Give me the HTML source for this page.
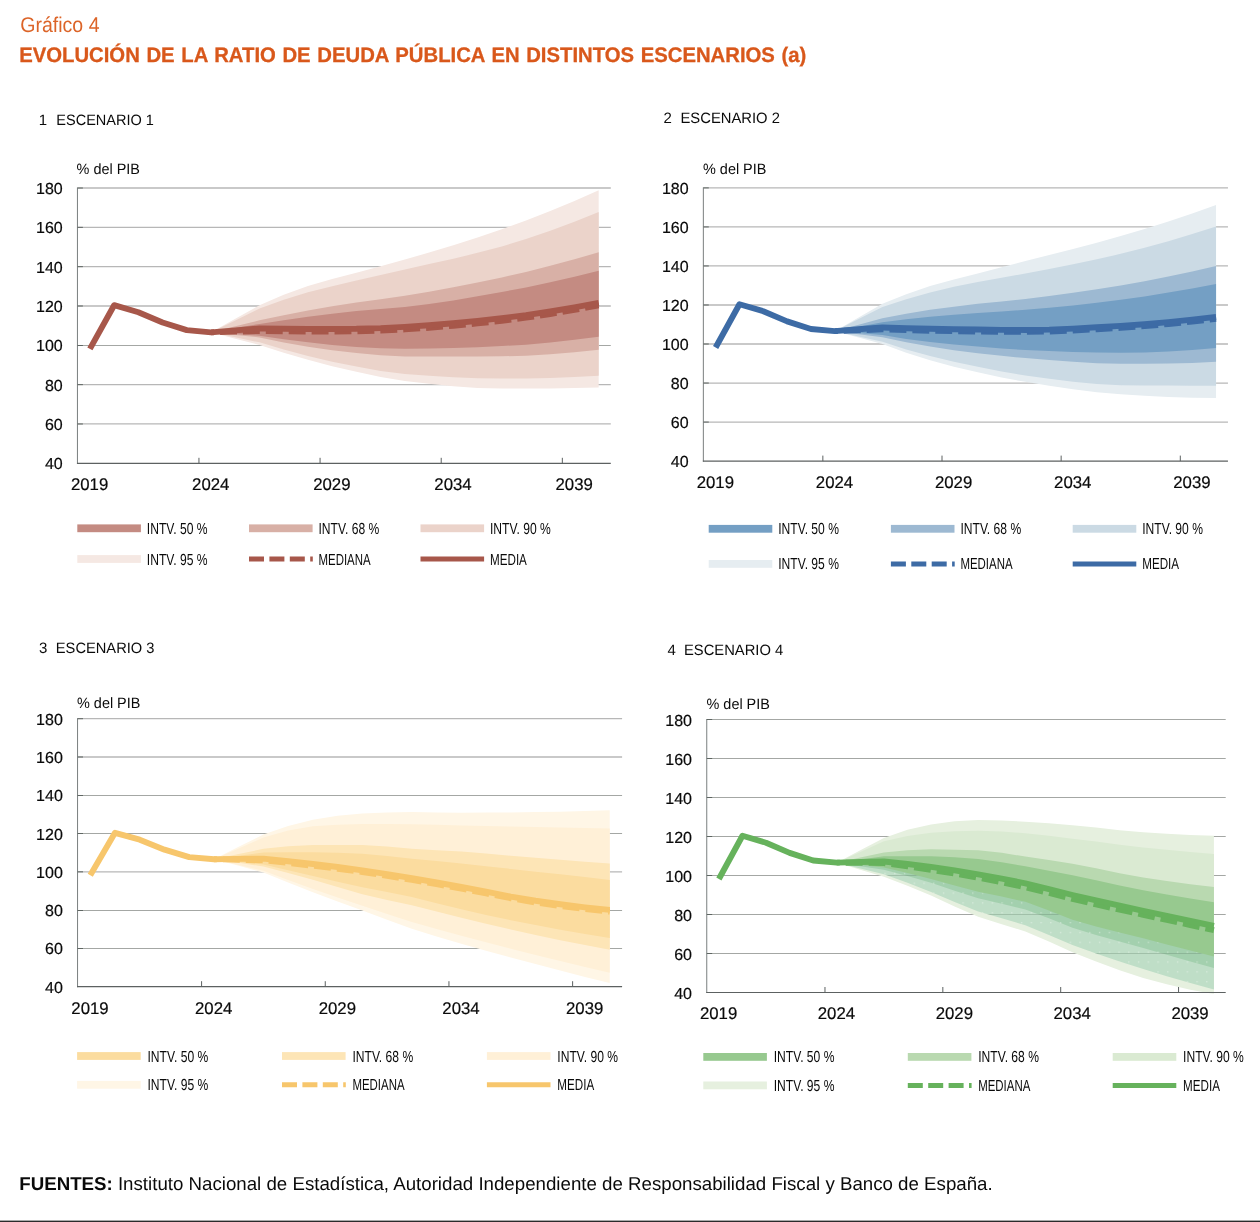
<!DOCTYPE html>
<html lang="es"><head><meta charset="utf-8"><title>Gráfico 4</title>
<style>html,body{margin:0;padding:0;background:#fff;}body{width:1260px;height:1222px;overflow:hidden;font-family:"Liberation Sans",sans-serif;}svg{display:block;will-change:transform;}svg text{font-family:"Liberation Sans",sans-serif;fill:#0a0a0a;text-rendering:geometricPrecision;}svg text.n{stroke:#0a0a0a;stroke-width:0.2px;}</style></head><body>
<svg width="1260" height="1222" viewBox="0 0 1260 1222">
<text x="20.3" y="31.7" font-size="21.3" style="fill:#dc6428" textLength="79.2" lengthAdjust="spacingAndGlyphs">Gráfico 4</text>
<text transform="translate(19.2,61.6) scale(0.966,1)" font-size="21" font-weight="bold" style="fill:#d9581b;word-spacing:1.05px;stroke:#d9581b;stroke-width:0.3px">EVOLUCIÓN DE LA RATIO DE DEUDA PÚBLICA EN DISTINTOS ESCENARIOS (a)</text>
<defs><pattern id="dots" x="3" y="2" width="9.75" height="9.85" patternUnits="userSpaceOnUse"><rect x="4" y="4" width="1.2" height="1.2" fill="#ffffff" fill-opacity="0.45"/></pattern></defs>
<g>
<line x1="77.8" x2="610.79" y1="423.97" y2="423.97" stroke="#b7b7b7" stroke-width="1.3"/>
<line x1="77.8" x2="610.79" y1="384.64" y2="384.64" stroke="#b7b7b7" stroke-width="1.3"/>
<line x1="77.8" x2="610.79" y1="345.5" y2="345.5" stroke="#9a9d9a" stroke-width="0.9"/>
<line x1="77.8" x2="610.79" y1="305.99" y2="305.99" stroke="#b7b7b7" stroke-width="1.3"/>
<line x1="77.8" x2="610.79" y1="266.66" y2="266.66" stroke="#b7b7b7" stroke-width="1.3"/>
<line x1="77.8" x2="610.79" y1="227.33" y2="227.33" stroke="#b7b7b7" stroke-width="1.3"/>
<line x1="77.8" x2="610.79" y1="188" y2="188" stroke="#b7b7b7" stroke-width="1.3"/>
<clipPath id="clip1"><rect x="77.8" y="186" width="532.99" height="278.5"/></clipPath>
<g clip-path="url(#clip1)">
<polygon fill="#f5e8e3" points="211.05,332.34 235.28,318.77 259.5,305.2 283.73,294.73 307.96,285.93 332.18,279.03 356.41,272.75 380.64,266.27 404.86,259.58 429.09,252.51 453.32,245.2 477.55,237.51 501.77,229.3 526,220.45 550.23,210.98 574.45,200.93 598.68,190.36 598.68,387.4 574.45,388.08 550.23,388.43 526,388.56 501.77,388.58 477.55,387.91 453.32,386.15 429.09,383.69 404.86,380.91 380.64,376.97 356.41,371.86 332.18,366.24 307.96,359.87 283.73,352.78 259.5,344.92 235.28,338.63 211.05,332.34"/>
<polygon fill="#ebd3ca" points="211.05,332.34 235.28,320.44 259.5,308.54 283.73,299.74 307.96,292.22 332.18,286.14 356.41,280.62 380.64,275.11 404.86,269.61 429.09,264.11 453.32,258.65 477.55,252.87 501.77,246.4 526,239 550.23,230.73 574.45,221.7 598.68,211.99 598.68,375.79 574.45,377.12 550.23,377.97 526,378.42 501.77,378.55 477.55,378.19 453.32,377.21 429.09,375.77 404.86,374.02 380.64,370.92 356.41,366.55 332.18,361.64 307.96,355.93 283.73,349.54 259.5,342.36 235.28,337.35 211.05,332.34"/>
<polygon fill="#d8b0a6" points="211.05,332.34 235.28,326.34 259.5,320.34 283.73,315.19 307.96,310.51 332.18,306.28 356.41,302.45 380.64,299.14 404.86,295.76 429.09,291.76 453.32,287.37 477.55,282.6 501.77,277.47 526,271.9 550.23,265.82 574.45,259.27 598.68,252.3 598.68,349.84 574.45,352.19 550.23,354.24 526,355.71 501.77,356.33 477.55,356.41 453.32,356.47 429.09,356.51 404.86,356.52 380.64,355.32 356.41,352.98 332.18,350.21 307.96,346.69 283.73,342.47 259.5,337.45 235.28,334.89 211.05,332.34"/>
<polygon fill="#c48b82" points="211.05,332.34 235.28,328.11 259.5,323.88 283.73,320.16 307.96,316.8 332.18,313.76 356.41,311.1 380.64,309.08 404.86,306.97 429.09,304.01 453.32,300.4 477.55,296.34 501.77,292.02 526,287.38 550.23,282.26 574.45,276.71 598.68,270.79 598.68,336.66 574.45,339.73 550.23,342.45 526,344.63 501.77,346.1 477.55,347.13 453.32,348.01 429.09,348.62 404.86,348.85 380.64,348.21 356.41,346.89 332.18,344.96 307.96,342.36 283.73,339.32 259.5,335.68 235.28,334.01 211.05,332.34"/>
</g>
<polyline fill="none" stroke="#a7574a" stroke-width="5.9" stroke-dasharray="16.9 6" stroke-dashoffset="-9" points="211.05,332.34 235.28,331.65 259.5,330.96 283.73,331.38 307.96,331.55 332.18,331.5 356.41,331.35 380.64,330.65 404.86,329.39 429.09,327.82 453.32,325.79 477.55,323.4 501.77,320.73 526,317.66 550.23,314.02 574.45,309.9 598.68,305.4"/>
<polyline fill="none" stroke="#a7574a" stroke-width="5.9" stroke-linejoin="round" points="89.91,348.85 114.14,305.2 138.37,312.28 162.59,322.5 186.82,330.17 211.05,332.34 235.28,330.37 259.5,328.4 283.73,328.82 307.96,328.99 332.18,328.94 356.41,328.8 380.64,328.09 404.86,326.83 429.09,325.27 453.32,323.24 477.55,320.84 501.77,318.18 526,315.1 550.23,311.46 574.45,307.34 598.68,302.84"/>
<line x1="77.45" x2="77.45" y1="187.5" y2="463.8" stroke="#7a7f7f" stroke-width="1"/>
<line x1="76.95" x2="610.79" y1="463.3" y2="463.3" stroke="#5c6161" stroke-width="1.2"/>
<line x1="198.94" x2="198.94" y1="457.8" y2="463.3" stroke="#5c6161" stroke-width="1"/>
<line x1="320.07" x2="320.07" y1="457.8" y2="463.3" stroke="#5c6161" stroke-width="1"/>
<line x1="441.21" x2="441.21" y1="457.8" y2="463.3" stroke="#5c6161" stroke-width="1"/>
<line x1="562.34" x2="562.34" y1="457.8" y2="463.3" stroke="#5c6161" stroke-width="1"/>
<line x1="77.45" x2="82.9" y1="423.97" y2="423.97" stroke="#5f6663" stroke-width="1"/>
<line x1="77.45" x2="82.9" y1="384.64" y2="384.64" stroke="#5f6663" stroke-width="1"/>
<line x1="77.45" x2="82.9" y1="345.5" y2="345.5" stroke="#5f6663" stroke-width="1"/>
<line x1="77.45" x2="82.9" y1="305.99" y2="305.99" stroke="#5f6663" stroke-width="1"/>
<line x1="77.45" x2="82.9" y1="266.66" y2="266.66" stroke="#5f6663" stroke-width="1"/>
<line x1="77.45" x2="82.9" y1="227.33" y2="227.33" stroke="#5f6663" stroke-width="1"/>
<line x1="77.45" x2="82.9" y1="188" y2="188" stroke="#5f6663" stroke-width="1"/>
<text class="n" x="62.7" y="469.3" text-anchor="end" font-size="16">40</text>
<text class="n" x="62.7" y="429.97" text-anchor="end" font-size="16">60</text>
<text class="n" x="62.7" y="390.64" text-anchor="end" font-size="16">80</text>
<text class="n" x="62.7" y="351.31" text-anchor="end" font-size="16">100</text>
<text class="n" x="62.7" y="311.99" text-anchor="end" font-size="16">120</text>
<text class="n" x="62.7" y="272.66" text-anchor="end" font-size="16">140</text>
<text class="n" x="62.7" y="233.33" text-anchor="end" font-size="16">160</text>
<text class="n" x="62.7" y="194" text-anchor="end" font-size="16">180</text>
<text class="n" x="89.61" y="490.4" text-anchor="middle" font-size="16.8">2019</text>
<text class="n" x="210.75" y="490.4" text-anchor="middle" font-size="16.8">2024</text>
<text class="n" x="331.88" y="490.4" text-anchor="middle" font-size="16.8">2029</text>
<text class="n" x="453.02" y="490.4" text-anchor="middle" font-size="16.8">2034</text>
<text class="n" x="574.15" y="490.4" text-anchor="middle" font-size="16.8">2039</text>
<text x="76.6" y="173.5" font-size="15" textLength="63.4" lengthAdjust="spacingAndGlyphs">% del PIB</text>
<text x="38.7" y="125" font-size="15">1</text>
<text x="56.3" y="125" font-size="15" textLength="97.6" lengthAdjust="spacingAndGlyphs">ESCENARIO 1</text>
<rect x="77.3" y="524.4" width="63.6" height="7.8" fill="#c48b82"/>
<text transform="translate(146.8,533.8) scale(0.756,1)" font-size="16">INTV. 50 %</text>
<rect x="249" y="524.4" width="63.6" height="7.8" fill="#d8b0a6"/>
<text transform="translate(318.5,533.8) scale(0.756,1)" font-size="16">INTV. 68 %</text>
<rect x="420.5" y="524.4" width="63.6" height="7.8" fill="#ebd3ca"/>
<text transform="translate(490,533.8) scale(0.756,1)" font-size="16">INTV. 90 %</text>
<rect x="77.3" y="555.1" width="63.6" height="7.8" fill="#f5e8e3"/>
<text transform="translate(146.8,564.5) scale(0.756,1)" font-size="16">INTV. 95 %</text>
<line x1="249" x2="312.8" y1="559" y2="559" stroke="#a7574a" stroke-width="5" stroke-dasharray="15 5.4"/>
<text transform="translate(318.5,564.5) scale(0.715,1)" font-size="16">MEDIANA</text>
<line x1="420.5" x2="484.1" y1="559" y2="559" stroke="#a7574a" stroke-width="5"/>
<text transform="translate(490,564.5) scale(0.728,1)" font-size="16">MEDIA</text>
</g>
<g>
<line x1="703.7" x2="1227.96" y1="422.07" y2="422.07" stroke="#b7b7b7" stroke-width="1.3"/>
<line x1="703.7" x2="1227.96" y1="383.04" y2="383.04" stroke="#b7b7b7" stroke-width="1.3"/>
<line x1="703.7" x2="1227.96" y1="344.01" y2="344.01" stroke="#b7b7b7" stroke-width="1.3"/>
<line x1="703.7" x2="1227.96" y1="304.99" y2="304.99" stroke="#b7b7b7" stroke-width="1.3"/>
<line x1="703.7" x2="1227.96" y1="265.96" y2="265.96" stroke="#b7b7b7" stroke-width="1.3"/>
<line x1="703.7" x2="1227.96" y1="226.93" y2="226.93" stroke="#b7b7b7" stroke-width="1.3"/>
<line x1="703.7" x2="1227.96" y1="187.9" y2="187.9" stroke="#b7b7b7" stroke-width="1.3"/>
<clipPath id="clip2"><rect x="703.7" y="185.9" width="524.26" height="276.4"/></clipPath>
<g clip-path="url(#clip2)">
<polygon fill="#e6edf1" points="834.77,331.13 858.6,317.47 882.43,303.81 906.25,294.22 930.09,286.06 953.91,279.54 977.75,273.57 1001.58,267.32 1025.4,261.08 1049.24,254.96 1073.07,248.93 1096.89,242.72 1120.72,236.1 1144.56,228.96 1168.38,221.38 1192.22,213.41 1216.05,205.07 1216.05,398.07 1192.22,397.76 1168.38,396.93 1144.56,395.74 1120.72,394.36 1096.89,392.33 1073.07,389.34 1049.24,385.73 1025.4,381.87 1001.58,377.46 977.75,372.31 953.91,366.66 930.09,360.21 906.25,352.66 882.43,344.01 858.6,337.57 834.77,331.13"/>
<polygon fill="#cbdae4" points="834.77,331.13 858.6,319.04 882.43,306.94 906.25,299.19 930.09,292.5 953.91,286.87 977.75,281.96 1001.58,277.72 1025.4,273.57 1049.24,269.03 1073.07,264.33 1096.89,259.32 1120.72,253.86 1144.56,247.83 1168.38,241.23 1192.22,234.11 1216.05,226.54 1216.05,385.77 1192.22,385.74 1168.38,385.62 1144.56,385.44 1120.72,385.19 1096.89,384.11 1073.07,381.78 1049.24,378.71 1025.4,375.43 1001.58,371.53 977.75,366.85 953.91,361.82 930.09,356.11 906.25,349.46 882.43,341.87 858.6,336.5 834.77,331.13"/>
<polygon fill="#9db9d2" points="834.77,331.13 858.6,324.7 882.43,318.26 906.25,313.74 930.09,309.86 953.91,306.64 977.75,303.81 1001.58,301.4 1025.4,298.94 1049.24,296.02 1073.07,292.81 1096.89,289.29 1120.72,285.47 1144.56,281.24 1168.38,276.54 1192.22,271.43 1216.05,265.96 1216.05,361.77 1192.22,362.89 1168.38,363.47 1144.56,363.69 1120.72,363.72 1096.89,363.19 1073.07,361.82 1049.24,359.99 1025.4,358.06 1001.58,355.87 977.75,353.19 953.91,350.14 930.09,346.55 906.25,342.24 882.43,337.18 858.6,334.16 834.77,331.13"/>
<polygon fill="#749fc4" points="834.77,331.13 858.6,326.74 882.43,322.35 906.25,319.25 930.09,316.69 953.91,314.7 977.75,312.99 1001.58,311.47 1025.4,309.86 1049.24,307.8 1073.07,305.39 1096.89,302.69 1120.72,299.72 1144.56,296.38 1168.38,292.6 1192.22,288.42 1216.05,283.91 1216.05,347.92 1192.22,349.9 1168.38,351.44 1144.56,352.44 1120.72,352.8 1096.89,352.56 1073.07,351.95 1049.24,351.07 1025.4,350.06 1001.58,348.54 977.75,346.55 953.91,344.5 930.09,342.06 906.25,338.9 882.43,335.04 858.6,333.09 834.77,331.13"/>
</g>
<polyline fill="none" stroke="#3d6ba5" stroke-width="5.9" stroke-dasharray="16.9 6" stroke-dashoffset="-9" points="834.77,331.13 858.6,330.26 882.43,329.38 906.25,330.14 930.09,330.74 953.91,331.19 977.75,331.53 1001.58,331.79 1025.4,331.92 1049.24,331.54 1073.07,330.57 1096.89,329.25 1120.72,327.82 1144.56,326.16 1168.38,324.05 1192.22,321.59 1216.05,318.84"/>
<polyline fill="none" stroke="#3d6ba5" stroke-width="5.9" stroke-linejoin="round" points="715.62,347.53 739.45,304.21 763.28,311.23 787.11,321.38 810.94,328.99 834.77,331.13 858.6,329.28 882.43,327.43 906.25,328.19 930.09,328.79 953.91,329.24 977.75,329.57 1001.58,329.83 1025.4,329.96 1049.24,329.59 1073.07,328.62 1096.89,327.3 1120.72,325.87 1144.56,324.21 1168.38,322.1 1192.22,319.63 1216.05,316.89"/>
<line x1="703.35" x2="703.35" y1="187.4" y2="461.6" stroke="#7a7f7f" stroke-width="1"/>
<line x1="702.85" x2="1227.96" y1="461.1" y2="461.1" stroke="#5c6161" stroke-width="1.2"/>
<line x1="822.85" x2="822.85" y1="455.6" y2="461.1" stroke="#5c6161" stroke-width="1"/>
<line x1="942" x2="942" y1="455.6" y2="461.1" stroke="#5c6161" stroke-width="1"/>
<line x1="1061.15" x2="1061.15" y1="455.6" y2="461.1" stroke="#5c6161" stroke-width="1"/>
<line x1="1180.3" x2="1180.3" y1="455.6" y2="461.1" stroke="#5c6161" stroke-width="1"/>
<line x1="703.35" x2="708.8" y1="422.07" y2="422.07" stroke="#5f6663" stroke-width="1"/>
<line x1="703.35" x2="708.8" y1="383.04" y2="383.04" stroke="#5f6663" stroke-width="1"/>
<line x1="703.35" x2="708.8" y1="344.01" y2="344.01" stroke="#5f6663" stroke-width="1"/>
<line x1="703.35" x2="708.8" y1="304.99" y2="304.99" stroke="#5f6663" stroke-width="1"/>
<line x1="703.35" x2="708.8" y1="265.96" y2="265.96" stroke="#5f6663" stroke-width="1"/>
<line x1="703.35" x2="708.8" y1="226.93" y2="226.93" stroke="#5f6663" stroke-width="1"/>
<line x1="703.35" x2="708.8" y1="187.9" y2="187.9" stroke="#5f6663" stroke-width="1"/>
<text class="n" x="688.6" y="467.1" text-anchor="end" font-size="16">40</text>
<text class="n" x="688.6" y="428.07" text-anchor="end" font-size="16">60</text>
<text class="n" x="688.6" y="389.04" text-anchor="end" font-size="16">80</text>
<text class="n" x="688.6" y="350.01" text-anchor="end" font-size="16">100</text>
<text class="n" x="688.6" y="310.99" text-anchor="end" font-size="16">120</text>
<text class="n" x="688.6" y="271.96" text-anchor="end" font-size="16">140</text>
<text class="n" x="688.6" y="232.93" text-anchor="end" font-size="16">160</text>
<text class="n" x="688.6" y="193.9" text-anchor="end" font-size="16">180</text>
<text class="n" x="715.32" y="488.2" text-anchor="middle" font-size="16.8">2019</text>
<text class="n" x="834.47" y="488.2" text-anchor="middle" font-size="16.8">2024</text>
<text class="n" x="953.62" y="488.2" text-anchor="middle" font-size="16.8">2029</text>
<text class="n" x="1072.77" y="488.2" text-anchor="middle" font-size="16.8">2034</text>
<text class="n" x="1191.92" y="488.2" text-anchor="middle" font-size="16.8">2039</text>
<text x="703" y="174.3" font-size="15" textLength="63.4" lengthAdjust="spacingAndGlyphs">% del PIB</text>
<text x="663.4" y="122.9" font-size="15">2</text>
<text x="680.5" y="122.9" font-size="15" textLength="99.4" lengthAdjust="spacingAndGlyphs">ESCENARIO 2</text>
<rect x="708.7" y="524.9" width="63.6" height="7.8" fill="#749fc4"/>
<text transform="translate(778.2,534.3) scale(0.756,1)" font-size="16">INTV. 50 %</text>
<rect x="890.9" y="524.9" width="63.6" height="7.8" fill="#9db9d2"/>
<text transform="translate(960.4,534.3) scale(0.756,1)" font-size="16">INTV. 68 %</text>
<rect x="1072.7" y="524.9" width="63.6" height="7.8" fill="#cbdae4"/>
<text transform="translate(1142.2,534.3) scale(0.756,1)" font-size="16">INTV. 90 %</text>
<rect x="708.7" y="560" width="63.6" height="7.8" fill="#e6edf1"/>
<text transform="translate(778.2,569.4) scale(0.756,1)" font-size="16">INTV. 95 %</text>
<line x1="890.9" x2="954.7" y1="563.9" y2="563.9" stroke="#3d6ba5" stroke-width="5" stroke-dasharray="15 5.4"/>
<text transform="translate(960.4,569.4) scale(0.715,1)" font-size="16">MEDIANA</text>
<line x1="1072.7" x2="1136.3" y1="563.9" y2="563.9" stroke="#3d6ba5" stroke-width="5"/>
<text transform="translate(1142.2,569.4) scale(0.728,1)" font-size="16">MEDIA</text>
</g>
<g>
<line x1="77.9" x2="622.09" y1="948.5" y2="948.5" stroke="#9a9d9a" stroke-width="0.9"/>
<line x1="77.9" x2="622.09" y1="910.5" y2="910.5" stroke="#9a9d9a" stroke-width="0.9"/>
<line x1="77.9" x2="622.09" y1="871.84" y2="871.84" stroke="#b7b7b7" stroke-width="1.3"/>
<line x1="77.9" x2="622.09" y1="833.5" y2="833.5" stroke="#9a9d9a" stroke-width="0.9"/>
<line x1="77.9" x2="622.09" y1="795.5" y2="795.5" stroke="#9a9d9a" stroke-width="0.9"/>
<line x1="77.9" x2="622.09" y1="756.99" y2="756.99" stroke="#b7b7b7" stroke-width="1.3"/>
<line x1="77.9" x2="622.09" y1="718.7" y2="718.7" stroke="#b7b7b7" stroke-width="1.3"/>
<clipPath id="clip3"><rect x="77.9" y="716.7" width="544.19" height="271.2"/></clipPath>
<g clip-path="url(#clip3)">
<polygon fill="#fff6e6" points="213.95,859.21 238.68,846.86 263.42,834.51 288.16,825.88 312.89,819.77 337.63,815.79 362.36,813.46 387.1,812.51 411.84,812.12 436.57,812.4 461.31,812.69 486.04,812.61 510.78,812.4 535.52,812.12 560.25,811.68 584.99,811.02 609.72,810.2 609.72,983.06 584.99,976.91 560.25,970.59 535.52,964.11 510.78,957.47 486.04,950.66 461.31,943.63 436.57,936.42 411.84,928.7 387.1,919.84 362.36,910.51 337.63,901.42 312.89,892.13 288.16,882.45 263.42,872.42 238.68,865.81 213.95,859.21"/>
<polygon fill="#fff0d7" points="213.95,859.21 238.68,848.39 263.42,837.58 288.16,830.43 312.89,826.28 337.63,824.66 362.36,823.99 387.1,824.04 411.84,824.18 436.57,824.74 461.31,825.52 486.04,826.07 510.78,826.57 535.52,827.05 560.25,827.52 584.99,827.96 609.72,828.39 609.72,972.73 584.99,966.94 560.25,961 535.52,954.92 510.78,948.7 486.04,942.33 461.31,935.78 436.57,929.09 411.84,922 387.1,914.07 362.36,905.73 337.63,897.42 312.89,888.88 288.16,879.96 263.42,870.69 238.68,864.95 213.95,859.21"/>
<polygon fill="#fde5b6" points="213.95,859.21 238.68,854.04 263.42,848.87 288.16,846.24 312.89,845.04 337.63,845.04 362.36,845.04 387.1,846.56 411.84,848.87 436.57,850.2 461.31,851.55 486.04,853.46 510.78,855.7 535.52,857.87 560.25,859.84 584.99,861.76 609.72,863.61 609.72,949.75 584.99,945.11 560.25,940.19 535.52,935.01 510.78,929.52 486.04,923.74 461.31,917.79 436.57,911.53 411.84,905.34 387.1,899.9 362.36,894.24 337.63,887.12 312.89,879.69 288.16,872.92 263.42,866.48 238.68,862.85 213.95,859.21"/>
<polygon fill="#fbdc9f" points="213.95,859.21 238.68,855.86 263.42,852.51 288.16,852.34 312.89,852.32 337.63,852.79 362.36,853.85 387.1,855.92 411.84,858.63 436.57,861.09 461.31,863.61 486.04,866.24 510.78,868.93 535.52,871.65 560.25,874.37 584.99,877.12 609.72,879.88 609.72,937.89 584.99,933.92 560.25,929.63 535.52,925.06 510.78,920.16 486.04,914.91 461.31,909.36 436.57,903.19 411.84,897.11 387.1,892.07 362.36,887.16 337.63,881.7 312.89,876.05 288.16,870.36 263.42,864.57 238.68,861.89 213.95,859.21"/>
</g>
<polyline fill="none" stroke="#f7c66c" stroke-width="5.9" stroke-dasharray="16.9 6" stroke-dashoffset="-9" points="213.95,859.21 238.68,859.78 263.42,860.36 288.16,862.92 312.89,865.72 337.63,868.73 362.36,872.03 387.1,875.8 411.84,879.88 436.57,884.2 461.31,888.69 486.04,893.44 510.78,898.26 535.52,902.47 560.25,905.98 584.99,909.07 609.72,911.66"/>
<polyline fill="none" stroke="#f7c66c" stroke-width="5.9" stroke-linejoin="round" points="90.27,875.29 115,832.79 139.74,839.68 164.48,849.64 189.21,857.1 213.95,859.21 238.68,858.92 263.42,858.63 288.16,861.2 312.89,863.99 337.63,867 362.36,870.31 387.1,874.07 411.84,878.16 436.57,882.48 461.31,886.97 486.04,891.72 510.78,896.54 535.52,900.75 560.25,904.25 584.99,907.35 609.72,909.94"/>
<line x1="77.55" x2="77.55" y1="718.2" y2="987.2" stroke="#7a7f7f" stroke-width="1"/>
<line x1="77.05" x2="622.09" y1="986.7" y2="986.7" stroke="#5c6161" stroke-width="1.2"/>
<line x1="201.58" x2="201.58" y1="981.2" y2="986.7" stroke="#5c6161" stroke-width="1"/>
<line x1="325.26" x2="325.26" y1="981.2" y2="986.7" stroke="#5c6161" stroke-width="1"/>
<line x1="448.94" x2="448.94" y1="981.2" y2="986.7" stroke="#5c6161" stroke-width="1"/>
<line x1="572.62" x2="572.62" y1="981.2" y2="986.7" stroke="#5c6161" stroke-width="1"/>
<line x1="77.55" x2="83" y1="948.5" y2="948.5" stroke="#5f6663" stroke-width="1"/>
<line x1="77.55" x2="83" y1="910.5" y2="910.5" stroke="#5f6663" stroke-width="1"/>
<line x1="77.55" x2="83" y1="871.84" y2="871.84" stroke="#5f6663" stroke-width="1"/>
<line x1="77.55" x2="83" y1="833.5" y2="833.5" stroke="#5f6663" stroke-width="1"/>
<line x1="77.55" x2="83" y1="795.5" y2="795.5" stroke="#5f6663" stroke-width="1"/>
<line x1="77.55" x2="83" y1="756.99" y2="756.99" stroke="#5f6663" stroke-width="1"/>
<line x1="77.55" x2="83" y1="718.7" y2="718.7" stroke="#5f6663" stroke-width="1"/>
<text class="n" x="62.8" y="992.7" text-anchor="end" font-size="16">40</text>
<text class="n" x="62.8" y="954.41" text-anchor="end" font-size="16">60</text>
<text class="n" x="62.8" y="916.13" text-anchor="end" font-size="16">80</text>
<text class="n" x="62.8" y="877.84" text-anchor="end" font-size="16">100</text>
<text class="n" x="62.8" y="839.56" text-anchor="end" font-size="16">120</text>
<text class="n" x="62.8" y="801.27" text-anchor="end" font-size="16">140</text>
<text class="n" x="62.8" y="762.99" text-anchor="end" font-size="16">160</text>
<text class="n" x="62.8" y="724.7" text-anchor="end" font-size="16">180</text>
<text class="n" x="89.97" y="1013.8" text-anchor="middle" font-size="16.8">2019</text>
<text class="n" x="213.65" y="1013.8" text-anchor="middle" font-size="16.8">2024</text>
<text class="n" x="337.33" y="1013.8" text-anchor="middle" font-size="16.8">2029</text>
<text class="n" x="461.01" y="1013.8" text-anchor="middle" font-size="16.8">2034</text>
<text class="n" x="584.69" y="1013.8" text-anchor="middle" font-size="16.8">2039</text>
<text x="77" y="707.9" font-size="15" textLength="63.4" lengthAdjust="spacingAndGlyphs">% del PIB</text>
<text x="39.1" y="652.9" font-size="15">3</text>
<text x="55.8" y="652.9" font-size="15" textLength="98.7" lengthAdjust="spacingAndGlyphs">ESCENARIO 3</text>
<rect x="77.1" y="1052.1" width="63.6" height="7.8" fill="#fbdc9f"/>
<text transform="translate(147.5,1061.5) scale(0.756,1)" font-size="16">INTV. 50 %</text>
<rect x="282" y="1052.1" width="63.6" height="7.8" fill="#fde5b6"/>
<text transform="translate(352.4,1061.5) scale(0.756,1)" font-size="16">INTV. 68 %</text>
<rect x="486.9" y="1052.1" width="63.6" height="7.8" fill="#fff0d7"/>
<text transform="translate(557.3,1061.5) scale(0.756,1)" font-size="16">INTV. 90 %</text>
<rect x="77.1" y="1080.9" width="63.6" height="7.8" fill="#fff6e6"/>
<text transform="translate(147.5,1090.3) scale(0.756,1)" font-size="16">INTV. 95 %</text>
<line x1="282" x2="345.8" y1="1084.8" y2="1084.8" stroke="#f7c66c" stroke-width="5" stroke-dasharray="15 5.4"/>
<text transform="translate(352.4,1090.3) scale(0.715,1)" font-size="16">MEDIANA</text>
<line x1="486.9" x2="550.5" y1="1084.8" y2="1084.8" stroke="#f7c66c" stroke-width="5"/>
<text transform="translate(557.3,1090.3) scale(0.728,1)" font-size="16">MEDIA</text>
</g>
<g>
<line x1="707.1" x2="1225.71" y1="953.5" y2="953.5" stroke="#9a9d9a" stroke-width="0.9"/>
<line x1="707.1" x2="1225.71" y1="914.5" y2="914.5" stroke="#9a9d9a" stroke-width="0.9"/>
<line x1="707.1" x2="1225.71" y1="875.5" y2="875.5" stroke="#9a9d9a" stroke-width="0.9"/>
<line x1="707.1" x2="1225.71" y1="836.5" y2="836.5" stroke="#9a9d9a" stroke-width="0.9"/>
<line x1="707.1" x2="1225.71" y1="797.5" y2="797.5" stroke="#9a9d9a" stroke-width="0.9"/>
<line x1="707.1" x2="1225.71" y1="758.5" y2="758.5" stroke="#9a9d9a" stroke-width="0.9"/>
<line x1="707.1" x2="1225.71" y1="719.5" y2="719.5" stroke="#9a9d9a" stroke-width="0.9"/>
<clipPath id="clip4"><rect x="707.1" y="717.5" width="518.61" height="276.2"/></clipPath>
<g clip-path="url(#clip4)">
<polygon fill="#e6f0df" points="836.75,862.63 860.32,850.35 883.9,838.06 907.47,829.8 931.04,824.41 954.62,821.32 978.19,819.92 1001.76,820.51 1025.34,821.68 1048.91,823.23 1072.48,825.19 1096.05,827.55 1119.63,830.14 1143.2,832.21 1166.77,833.68 1190.35,834.9 1213.92,835.72 1213.92,926 1190.35,921 1166.77,915.93 1143.2,910.79 1119.63,905.64 1096.05,900.42 1072.48,895 1048.91,889.03 1025.34,883.3 1001.76,878.56 978.19,874.33 954.62,870.4 931.04,866.92 907.47,863.96 883.9,861.46 860.32,862.04 836.75,862.63"/>
<polygon fill="#daead2" points="836.75,862.63 860.32,851.9 883.9,841.18 907.47,835.98 931.04,832.79 954.62,831.3 978.19,830.65 1001.76,831.48 1025.34,833.18 1048.91,835.64 1072.48,838.64 1096.05,841.61 1119.63,844.65 1143.2,847.42 1166.77,849.85 1190.35,852.07 1213.92,854.05 1213.92,926 1190.35,921 1166.77,915.93 1143.2,910.79 1119.63,905.64 1096.05,900.42 1072.48,895 1048.91,889.03 1025.34,883.3 1001.76,878.56 978.19,874.33 954.62,870.4 931.04,866.92 907.47,863.96 883.9,861.46 860.32,862.04 836.75,862.63"/>
<polygon fill="#b9d9b0" points="836.75,862.63 860.32,857.56 883.9,852.49 907.47,850.28 931.04,849.37 954.62,849.65 978.19,850.35 1001.76,852.84 1025.34,856.59 1048.91,860.03 1072.48,863.8 1096.05,868.28 1119.63,873.13 1143.2,877.45 1166.77,881.04 1190.35,884.25 1213.92,887 1213.92,926 1190.35,921 1166.77,915.93 1143.2,910.79 1119.63,905.64 1096.05,900.42 1072.48,895 1048.91,889.03 1025.34,883.3 1001.76,878.56 978.19,874.33 954.62,870.4 931.04,866.92 907.47,863.96 883.9,861.46 860.32,862.04 836.75,862.63"/>
<polygon fill="#97c98f" points="836.75,862.63 860.32,859.41 883.9,856.19 907.47,856.19 931.04,856.19 954.62,857.14 978.19,859.12 1001.76,862.25 1025.34,866.34 1048.91,870.64 1072.48,875.31 1096.05,880.31 1119.63,885.51 1143.2,890.32 1166.77,894.6 1190.35,898.58 1213.92,902.22 1213.92,926 1190.35,921 1166.77,915.93 1143.2,910.79 1119.63,905.64 1096.05,900.42 1072.48,895 1048.91,889.03 1025.34,883.3 1001.76,878.56 978.19,874.33 954.62,870.4 931.04,866.92 907.47,863.96 883.9,861.46 860.32,862.04 836.75,862.63"/>
<polygon fill="#e6f0df" points="836.75,862.63 860.32,862.04 883.9,861.46 907.47,863.96 931.04,866.92 954.62,870.4 978.19,874.33 1001.76,878.56 1025.34,883.3 1048.91,889.03 1072.48,895 1096.05,900.42 1119.63,905.64 1143.2,910.79 1166.77,915.93 1190.35,921 1213.92,926 1213.92,994.06 1190.35,989.65 1166.77,984.17 1143.2,977.88 1119.63,970.35 1096.05,961.53 1072.48,952.13 1048.91,941.58 1025.34,931.47 1001.76,924.18 978.19,916.84 954.62,906.55 931.04,895.59 907.47,885.84 883.9,876.67 860.32,869.65 836.75,862.63"/>
<polygon fill="#bfdec7" points="836.75,862.63 860.32,862.04 883.9,861.46 907.47,863.96 931.04,866.92 954.62,870.4 978.19,874.33 1001.76,878.56 1025.34,883.3 1048.91,889.03 1072.48,895 1096.05,900.42 1119.63,905.64 1143.2,910.79 1166.77,915.93 1190.35,921 1213.92,926 1213.92,989.57 1190.35,983.02 1166.77,976.13 1143.2,968.9 1119.63,961.44 1096.05,953.6 1072.48,945.12 1048.91,934.99 1025.34,925.23 1001.76,918.29 978.19,911.38 954.62,901.92 931.04,891.88 907.47,882.87 883.9,874.33 860.32,868.48 836.75,862.63"/>
<polygon fill="#a3d0ae" points="836.75,862.63 860.32,862.04 883.9,861.46 907.47,863.96 931.04,866.92 954.62,870.4 978.19,874.33 1001.76,878.56 1025.34,883.3 1048.91,889.03 1072.48,895 1096.05,900.42 1119.63,905.64 1143.2,910.79 1166.77,915.93 1190.35,921 1213.92,926 1213.92,968.12 1190.35,961.45 1166.77,954.76 1143.2,948.04 1119.63,941.54 1096.05,935.02 1072.48,927.76 1048.91,918.36 1025.34,909.43 1001.76,903.77 978.19,898.32 954.62,890.66 931.04,882.72 907.47,875.96 883.9,869.85 860.32,866.24 836.75,862.63"/>
<clipPath id="ov4"><polygon points="836.75,862.63 860.32,865.07 883.9,867.5 907.47,873.11 931.04,879.01 954.62,885.45 978.19,891.68 1001.76,896.54 1025.34,901.83 1048.91,910.56 1072.48,919.76 1096.05,926.49 1119.63,932.4 1143.2,938.29 1166.77,944.42 1190.35,950.53 1213.92,956.62 1213.92,989.57 1190.35,983.02 1166.77,976.13 1143.2,968.9 1119.63,961.44 1096.05,953.6 1072.48,945.12 1048.91,934.99 1025.34,925.23 1001.76,918.29 978.19,911.38 954.62,901.92 931.04,891.88 907.47,882.87 883.9,874.33 860.32,868.48 836.75,862.63"/></clipPath>
<g clip-path="url(#ov4)">
<rect x="707.1" y="719.5" width="518.61" height="273" fill="url(#dots)"/>
<line x1="707.1" x2="1225.71" y1="953.5" y2="953.5" stroke="#5d7d68" stroke-opacity="0.35" stroke-width="0.9"/>
<line x1="707.1" x2="1225.71" y1="914.5" y2="914.5" stroke="#5d7d68" stroke-opacity="0.35" stroke-width="0.9"/>
<line x1="707.1" x2="1225.71" y1="875.5" y2="875.5" stroke="#5d7d68" stroke-opacity="0.35" stroke-width="0.9"/>
<line x1="707.1" x2="1225.71" y1="836.5" y2="836.5" stroke="#5d7d68" stroke-opacity="0.35" stroke-width="0.9"/>
</g>
<polygon fill="#97c98f" points="836.75,862.63 860.32,862.04 883.9,861.46 907.47,863.96 931.04,866.92 954.62,870.4 978.19,874.33 1001.76,878.56 1025.34,883.3 1048.91,889.03 1072.48,895 1096.05,900.42 1119.63,905.64 1143.2,910.79 1166.77,915.93 1190.35,921 1213.92,926 1213.92,956.62 1190.35,950.53 1166.77,944.42 1143.2,938.29 1119.63,932.4 1096.05,926.49 1072.48,919.76 1048.91,910.56 1025.34,901.83 1001.76,896.54 978.19,891.68 954.62,885.45 931.04,879.01 907.47,873.11 883.9,867.5 860.32,865.07 836.75,862.63"/>
</g>
<polyline fill="none" stroke="#66b25c" stroke-width="5.9" stroke-dasharray="16.9 6" stroke-dashoffset="-9" points="836.75,862.63 860.32,862.83 883.9,863.02 907.47,866.21 931.04,869.85 954.62,873.57 978.19,877.74 1001.76,882.22 1025.34,887.2 1048.91,892.95 1072.48,898.95 1096.05,904.39 1119.63,909.64 1143.2,914.82 1166.77,919.98 1190.35,925.07 1213.92,930.1"/>
<polyline fill="none" stroke="#66b25c" stroke-width="5.9" stroke-linejoin="round" points="718.89,879.01 742.46,835.72 766.03,842.74 789.61,852.88 813.18,860.49 836.75,862.63 860.32,862.04 883.9,861.46 907.47,863.96 931.04,866.92 954.62,870.4 978.19,874.33 1001.76,878.56 1025.34,883.3 1048.91,889.03 1072.48,895 1096.05,900.42 1119.63,905.64 1143.2,910.79 1166.77,915.93 1190.35,921 1213.92,926"/>
<line x1="706.75" x2="706.75" y1="719" y2="993" stroke="#7a7f7f" stroke-width="1"/>
<line x1="706.25" x2="1225.71" y1="992.5" y2="992.5" stroke="#5c6161" stroke-width="1.2"/>
<line x1="824.97" x2="824.97" y1="987" y2="992.5" stroke="#5c6161" stroke-width="1"/>
<line x1="942.83" x2="942.83" y1="987" y2="992.5" stroke="#5c6161" stroke-width="1"/>
<line x1="1060.7" x2="1060.7" y1="987" y2="992.5" stroke="#5c6161" stroke-width="1"/>
<line x1="1178.56" x2="1178.56" y1="987" y2="992.5" stroke="#5c6161" stroke-width="1"/>
<line x1="706.75" x2="712.2" y1="953.5" y2="953.5" stroke="#5f6663" stroke-width="1"/>
<line x1="706.75" x2="712.2" y1="914.5" y2="914.5" stroke="#5f6663" stroke-width="1"/>
<line x1="706.75" x2="712.2" y1="875.5" y2="875.5" stroke="#5f6663" stroke-width="1"/>
<line x1="706.75" x2="712.2" y1="836.5" y2="836.5" stroke="#5f6663" stroke-width="1"/>
<line x1="706.75" x2="712.2" y1="797.5" y2="797.5" stroke="#5f6663" stroke-width="1"/>
<line x1="706.75" x2="712.2" y1="758.5" y2="758.5" stroke="#5f6663" stroke-width="1"/>
<line x1="706.75" x2="712.2" y1="719.5" y2="719.5" stroke="#5f6663" stroke-width="1"/>
<text class="n" x="692" y="998.5" text-anchor="end" font-size="16">40</text>
<text class="n" x="692" y="959.5" text-anchor="end" font-size="16">60</text>
<text class="n" x="692" y="920.5" text-anchor="end" font-size="16">80</text>
<text class="n" x="692" y="881.5" text-anchor="end" font-size="16">100</text>
<text class="n" x="692" y="842.5" text-anchor="end" font-size="16">120</text>
<text class="n" x="692" y="803.5" text-anchor="end" font-size="16">140</text>
<text class="n" x="692" y="764.5" text-anchor="end" font-size="16">160</text>
<text class="n" x="692" y="725.5" text-anchor="end" font-size="16">180</text>
<text class="n" x="718.59" y="1019.1" text-anchor="middle" font-size="16.8">2019</text>
<text class="n" x="836.45" y="1019.1" text-anchor="middle" font-size="16.8">2024</text>
<text class="n" x="954.32" y="1019.1" text-anchor="middle" font-size="16.8">2029</text>
<text class="n" x="1072.18" y="1019.1" text-anchor="middle" font-size="16.8">2034</text>
<text class="n" x="1190.05" y="1019.1" text-anchor="middle" font-size="16.8">2039</text>
<text x="706.5" y="709.2" font-size="15" textLength="63.4" lengthAdjust="spacingAndGlyphs">% del PIB</text>
<text x="667.6" y="654.5" font-size="15">4</text>
<text x="684" y="654.5" font-size="15" textLength="99.2" lengthAdjust="spacingAndGlyphs">ESCENARIO 4</text>
<rect x="703.3" y="1053" width="63.6" height="7.8" fill="#97c98f"/>
<text transform="translate(773.7,1062.4) scale(0.756,1)" font-size="16">INTV. 50 %</text>
<rect x="907.8" y="1053" width="63.6" height="7.8" fill="#b9d9b0"/>
<text transform="translate(978.2,1062.4) scale(0.756,1)" font-size="16">INTV. 68 %</text>
<rect x="1112.7" y="1053" width="63.6" height="7.8" fill="#daead2"/>
<text transform="translate(1183.1,1062.4) scale(0.756,1)" font-size="16">INTV. 90 %</text>
<rect x="703.3" y="1081.5" width="63.6" height="7.8" fill="#e6f0df"/>
<text transform="translate(773.7,1090.9) scale(0.756,1)" font-size="16">INTV. 95 %</text>
<line x1="907.8" x2="971.6" y1="1085.4" y2="1085.4" stroke="#66b25c" stroke-width="5" stroke-dasharray="15 5.4"/>
<text transform="translate(978.2,1090.9) scale(0.715,1)" font-size="16">MEDIANA</text>
<line x1="1112.7" x2="1176.3" y1="1085.4" y2="1085.4" stroke="#66b25c" stroke-width="5"/>
<text transform="translate(1183.1,1090.9) scale(0.728,1)" font-size="16">MEDIA</text>
</g>
<text x="19.3" y="1190" font-size="18.7"><tspan font-weight="bold">FUENTES:</tspan> Instituto Nacional de Estadística, Autoridad Independiente de Responsabilidad Fiscal y Banco de España.</text>
<rect x="0" y="1220.6" width="1260" height="1.4" fill="#2b2b2b"/>
</svg></body></html>
